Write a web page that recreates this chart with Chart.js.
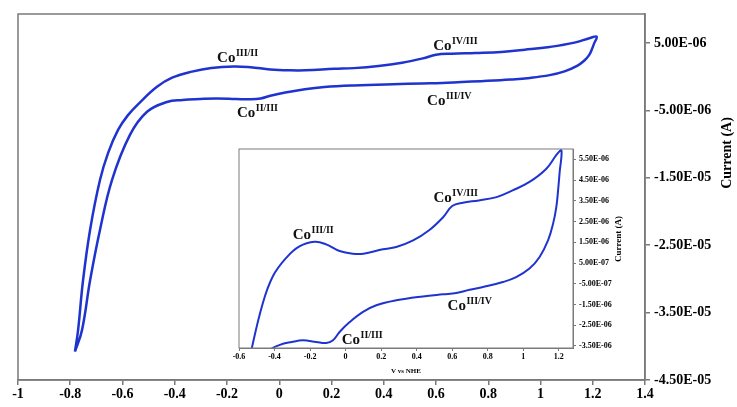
<!DOCTYPE html>
<html><head><meta charset="utf-8">
<script src="https://cdn.jsdelivr.net/npm/chart.js@4.4.0/dist/chart.umd.min.js"></script>
<style>
html,body{margin:0;padding:0;background:#fff;}
#wrap{position:relative;width:737px;height:407px;overflow:hidden;}
#main{position:absolute;left:0;top:0;}
#inset{position:absolute;left:230px;top:140px;}
</style></head><body>
<div id="wrap">
<canvas id="main" width="737" height="407"></canvas>
<canvas id="inset" width="400" height="235"></canvas>
</div>
<script>
// Potential (V vs NHE) and current (µA)
const forwardV = [-0.782,-0.770,-0.751,-0.724,-0.686,-0.655,-0.617,-0.579,-0.533,-0.468,-0.410,-0.334,-0.260,-0.174,-0.110,-0.034,0.040,0.100,0.210,0.285,0.380,0.470,0.550,0.600,0.660,0.750,0.850,0.940,1.035,1.130,1.190,1.215];
const forwardI = [-40.8,-37.6,-30.2,-22.7,-15.3,-11.3,-7.9,-5.7,-3.8,-1.5,-0.15,0.75,1.3,1.52,1.40,1.08,0.95,0.95,1.16,1.27,1.59,2.08,2.72,3.25,3.41,3.52,3.68,4.00,4.41,5.05,5.75,5.93];
const reverseV = [1.205,1.196,1.186,1.168,1.140,1.092,1.035,0.960,0.885,0.773,0.698,0.623,0.548,0.435,0.285,0.173,0.098,0.023,-0.034,-0.071,-0.109,-0.165,-0.240,-0.303,-0.370,-0.430,-0.506,-0.571,-0.640,-0.686,-0.724,-0.755,-0.782];
const reverseI = [4.9,4.0,3.2,2.4,1.6,0.79,0.23,-0.18,-0.42,-0.66,-0.79,-0.95,-1.01,-1.11,-1.30,-1.54,-1.86,-2.35,-2.83,-3.23,-3.36,-3.31,-3.23,-3.31,-3.45,-3.75,-5.2,-8.6,-15.3,-22.7,-30.2,-37.6,-40.8];

const mainXTicks = [-1,-0.8,-0.6,-0.4,-0.2,0,0.2,0.4,0.6,0.8,1,1.2,1.4];
const mainXTickLabels = ['-1','-0.8','-0.6','-0.4','-0.2','0','0.2','0.4','0.6','0.8','1','1.2','1.4'];
const mainYTicks = [5e-6,-5e-6,-1.5e-5,-2.5e-5,-3.5e-5,-4.5e-5];
const mainYTickLabels = ['5.00E-06','-5.00E-06','-1.50E-05','-2.50E-05','-3.50E-05','-4.50E-05'];

const insetXTicks = [-0.6,-0.4,-0.2,0,0.2,0.4,0.6,0.8,1,1.2];
const insetXTickLabels = ['-0.6','-0.4','-0.2','0','0.2','0.4','0.6','0.8','1','1.2'];
const insetYTicks = [5.5e-6,4.5e-6,3.5e-6,2.5e-6,1.5e-6,5e-7,-5e-7,-1.5e-6,-2.5e-6,-3.5e-6];
const insetYTickLabels = ['5.50E-06','4.50E-06','3.50E-06','2.50E-06','1.50E-06','5.00E-07','-5.00E-07','-1.50E-06','-2.50E-06','-3.50E-06'];

const peakNames = ['III/II','II/III','IV/III','III/IV'];
const mainLabelV = [-0.238,-0.162,0.589,0.566];
const mainLabelI = [2.18,-5.98,3.96,-4.2];
const insetLabelV = [-0.298,-0.022,0.495,0.574];
const insetLabelI = [1.68,-3.39,3.42,-1.79];

const yTitle = 'Current (A)';
const xTitleInset = 'V vs NHE';

// ---------------------------------------------------------------
const BLUE = '#1f33cf';
const AXIS = '#7a7a7a';
const SERIF = '"Liberation Serif", "Times New Roman", serif';
Chart.defaults.font.family = SERIF;
Chart.defaults.color = '#000';

const loop = [];
forwardV.forEach((v,i)=>loop.push({x:v, y:forwardI[i]*1e-6}));
reverseV.forEach((v,i)=>loop.push({x:v, y:reverseI[i]*1e-6}));

const boxLabels = {
  id:'boxLabels',
  afterDraw(chart, args, o){
    const {ctx, chartArea:a, scales} = chart;
    ctx.save();
    ctx.strokeStyle = AXIS; ctx.lineWidth = o.boxWidth;
    ctx.strokeRect(a.left, a.top, a.right-a.left, a.bottom-a.top);
    ctx.fillStyle = '#111'; ctx.textAlign='left'; ctx.textBaseline='alphabetic';
    o.v.forEach((v,i)=>{
      const x = scales.x.getPixelForValue(v);
      const y = scales.y.getPixelForValue(o.i[i]*1e-6);
      ctx.font = 'bold '+o.size+'px '+SERIF;
      ctx.fillText('Co', x, y);
      const w = ctx.measureText('Co').width;
      ctx.font = 'bold '+o.supSize+'px '+SERIF;
      ctx.fillText(peakNames[i], x+w+0.5, y-o.supRaise);
    });
    ctx.translate(o.titleX, o.titleY);
    ctx.rotate(-Math.PI/2);
    ctx.textAlign='center'; ctx.textBaseline='middle';
    ctx.font = 'bold '+o.titleSize+'px '+SERIF;
    ctx.fillStyle = '#000';
    ctx.fillText(yTitle, 0, 0);
    ctx.restore();
  }
};

function dataset(w){
  return {data:loop, showLine:true, borderColor:BLUE, borderWidth:w, pointRadius:0, tension:0.4, fill:false};
}

new Chart(document.getElementById('main'), {
  type:'scatter',
  data:{datasets:[dataset(2.5)]},
  options:{
    responsive:false, animation:false, devicePixelRatio:1,
    layout:{padding:{left:18, top:14, right:0, bottom:0}},
    plugins:{legend:{display:false}, tooltip:{enabled:false},
      boxLabels:{boxWidth:1.5, v:mainLabelV, i:mainLabelI, size:15, supSize:10, supRaise:6,
                 titleX:727, titleY:153, titleSize:14}},
    scales:{
      x:{type:'linear', min:-1, max:1.4,
        afterBuildTicks:s=>{s.ticks = mainXTicks.map(v=>({value:v}));},
        afterFit:s=>{s.height = 27;},
        ticks:{font:{size:14, weight:'bold'}, padding:1, maxRotation:0, autoSkip:false, callback:(v,i)=>mainXTickLabels[i]},
        grid:{drawOnChartArea:false, tickLength:5, color:AXIS, lineWidth:1.5},
        border:{color:AXIS, width:1.5}},
      y:{type:'linear', position:'right', min:-4.5e-5, max:9.3e-6,
        afterBuildTicks:s=>{s.ticks = mainYTicks.map(v=>({value:v}));},
        afterFit:s=>{s.width = 92;},
        ticks:{font:{size:14, weight:'bold'}, padding:4, autoSkip:false, callback:(v,i)=>mainYTickLabels[i]},
        grid:{drawOnChartArea:false, tickLength:5, color:AXIS, lineWidth:1.5},
        border:{color:AXIS, width:1.5}}
    }
  },
  plugins:[boxLabels]
});

new Chart(document.getElementById('inset'), {
  type:'scatter',
  data:{datasets:[dataset(2)]},
  options:{
    responsive:false, animation:false, devicePixelRatio:1,
    layout:{padding:{left:9, top:9, right:0, bottom:0}},
    plugins:{legend:{display:false}, tooltip:{enabled:false},
      boxLabels:{boxWidth:1, v:insetLabelV, i:insetLabelI, size:15, supSize:10, supRaise:6,
                 titleX:389, titleY:99, titleSize:9}},
    scales:{
      x:{type:'linear', min:-0.6, max:1.28,
        afterBuildTicks:s=>{s.ticks = insetXTicks.map(v=>({value:v}));},
        afterFit:s=>{s.height = 27;},
        title:{display:true, text:xTitleInset, font:{size:7, weight:'bold'}, padding:{top:1,bottom:0}},
        ticks:{font:{size:8, weight:'bold'}, padding:1, maxRotation:0, autoSkip:false, callback:(v,i)=>insetXTickLabels[i]},
        grid:{drawOnChartArea:false, tickLength:3, color:AXIS, lineWidth:1},
        border:{color:AXIS, width:1}},
      y:{type:'linear', position:'right', min:-3.6e-6, max:6.0e-6,
        afterBuildTicks:s=>{s.ticks = insetYTicks.map(v=>({value:v}));},
        afterFit:s=>{s.width = 57;},
        ticks:{font:{size:8, weight:'bold'}, padding:3, autoSkip:false, callback:(v,i)=>insetYTickLabels[i]},
        grid:{drawOnChartArea:false, tickLength:3, color:AXIS, lineWidth:1},
        border:{color:AXIS, width:1}}
    }
  },
  plugins:[boxLabels]
});
</script>
</body></html>
